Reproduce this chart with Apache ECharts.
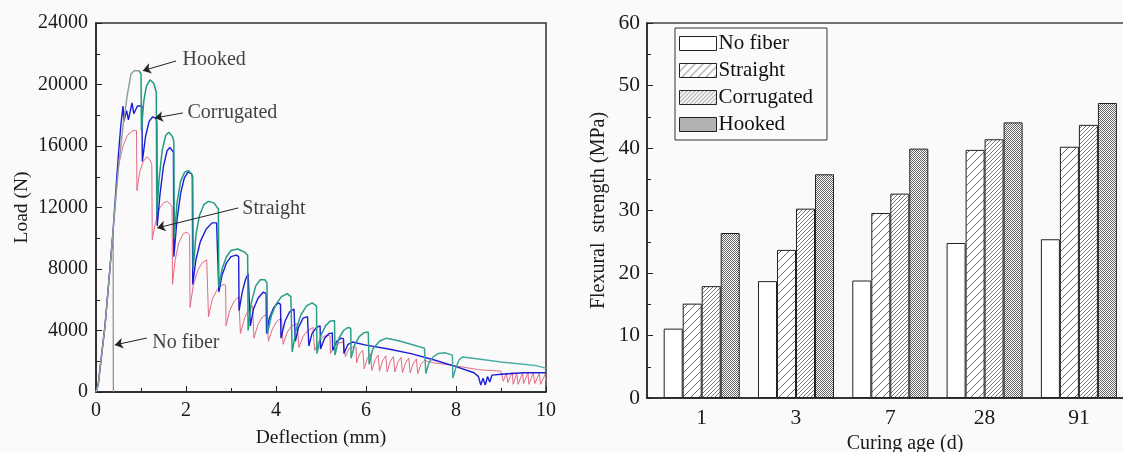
<!DOCTYPE html>
<html><head><meta charset="utf-8">
<script src="https://cdn.jsdelivr.net/npm/echarts@6/dist/echarts.min.js"></script>
<style>html,body{margin:0;padding:0;background:#fafafa}#c{width:1123px;height:452px}</style>
</head><body><div id="c"></div>
<script>
// ---------- Right panel: flexural strength (MPa) ----------
const curingAges = ['1', '3', '7', '28', '91'];
const noFiberStrength    = [11.1, 18.7, 18.8, 24.8, 25.4];
const straightStrength   = [15.1, 23.7, 29.6, 39.7, 40.2];
const corrugatedStrength = [17.9, 30.3, 32.7, 41.4, 43.7];
const hookedStrength     = [26.4, 35.8, 39.9, 44.1, 47.2];
const strengthTicks = [0, 10, 20, 30, 40, 50, 60];

// ---------- Left panel: load (N) vs deflection (mm) ----------
const noFiberCurve = [[0,0],[0.05,500],[0.1,1800],[0.2,4300],[0.3,7700],[0.38,10500],[0.385,300],[0.39,0]];
const straightCurve = [[0,0],[0.05,500],[0.1,1800],[0.2,4300],[0.3,7700],[0.38,10500],[0.5,14700],[0.6,16000],[0.7,16700],[0.82,17000],[0.9,17000],[0.91,13100],[0.97,14300],[1.05,15000],[1.13,15300],[1.2,15100],[1.24,14800],[1.25,9900],[1.32,11000],[1.4,11900],[1.5,12300],[1.58,12400],[1.66,12200],[1.69,12000],[1.7,7000],[1.76,8600],[1.84,9700],[1.94,10300],[2.02,10400],[2.08,10200],[2.09,5500],[2.16,6900],[2.26,7900],[2.36,8400],[2.46,8600],[2.49,8500],[2.5,4900],[2.58,6000],[2.7,6700],[2.82,7000],[2.88,6950],[2.89,4300],[2.97,5300],[3.07,5900],[3.17,6200],[3.2,6150],[3.21,3800],[3.3,4800],[3.4,5400],[3.48,5600],[3.5,5550],[3.51,3500],[3.6,4400],[3.7,4900],[3.8,5050],[3.82,5000],[3.83,3300],[3.92,4100],[4.02,4600],[4.12,4800],[4.15,4750],[4.16,3100],[4.25,3900],[4.35,4300],[4.47,4450],[4.5,4400],[4.51,2900],[4.6,3600],[4.7,4000],[4.82,4200],[4.85,4150],[4.86,2700],[4.95,3300],[5.05,3600],[5.15,3700],[5.2,3650],[5.21,2500],[5.3,3000],[5.4,3200],[5.5,3250],[5.53,3200],[5.54,2300],[5.62,2800],[5.72,2950],[5.78,2900],[5.79,1900],[5.86,2500],[5.93,2700],[5.95,2650],[5.96,1500],[6.03,2200],[6.1,2500],[6.12,2450],[6.13,1400],[6.2,2100],[6.27,2400],[6.29,2350],[6.3,1350],[6.37,2050],[6.44,2350],[6.46,2300],[6.47,1300],[6.54,2000],[6.61,2300],[6.63,2250],[6.64,1300],[6.71,1950],[6.78,2250],[6.8,2200],[6.81,1250],[6.88,1900],[6.95,2200],[6.97,2150],[6.98,1250],[7.05,1850],[7.12,2150],[7.14,2100],[7.15,1200],[7.22,1800],[7.3,2050],[7.32,2000],[7.5,1900],[8.0,1700],[8.5,1450],[9.0,1350],[9.05,700],[9.12,1250],[9.15,600],[9.25,1300],[9.27,500],[9.35,1200],[9.38,500],[9.48,1250],[9.5,550],[9.6,1250],[9.62,500],[9.72,1250],[9.75,550],[9.85,1200],[9.88,500],[9.98,1150],[10,700]];
const corrugatedCurve = [[0,0],[0.05,500],[0.1,1800],[0.2,4300],[0.3,7700],[0.38,10500],[0.45,13500],[0.5,15500],[0.55,17300],[0.6,18600],[0.62,17600],[0.68,18300],[0.72,17700],[0.8,18800],[0.84,18100],[0.92,18600],[1.02,18600],[1.03,15000],[1.1,16600],[1.18,17600],[1.26,17900],[1.33,17800],[1.35,17600],[1.36,10800],[1.42,12800],[1.5,14700],[1.58,15700],[1.64,15900],[1.72,15600],[1.73,8800],[1.8,11200],[1.88,12900],[1.96,13900],[2.04,14300],[2.12,14200],[2.14,14000],[2.15,7000],[2.22,8600],[2.32,9800],[2.45,10600],[2.58,11000],[2.68,11000],[2.72,10900],[2.73,6500],[2.8,7600],[2.9,8400],[3.0,8800],[3.12,8900],[3.17,8800],[3.18,5300],[3.25,6500],[3.32,7300],[3.38,7700],[3.42,7600],[3.43,4300],[3.5,5400],[3.6,6100],[3.72,6500],[3.78,6400],[3.79,3800],[3.85,4800],[3.95,5500],[4.05,5800],[4.1,5700],[4.11,3500],[4.2,4600],[4.3,5200],[4.4,5400],[4.42,5300],[4.43,3300],[4.5,4200],[4.6,4800],[4.7,4900],[4.72,4850],[4.73,3000],[4.8,3800],[4.9,4200],[4.98,4300],[4.99,2800],[5.08,3500],[5.18,3800],[5.25,3850],[5.26,2700],[5.35,3300],[5.45,3500],[5.5,3450],[5.51,2500],[5.6,3100],[5.7,3250],[6.0,3050],[6.5,2800],[7.0,2500],[7.5,2100],[8.0,1650],[8.4,1250],[8.5,1000],[8.55,450],[8.6,900],[8.65,450],[8.7,1000],[8.75,650],[8.8,1100],[9.0,1150],[9.5,1250],[10,1250]];
const hookedCurve = [[0,0],[0.05,500],[0.1,1800],[0.2,4300],[0.3,7700],[0.38,10500],[0.45,13000],[0.5,14600],[0.6,17300],[0.7,19400],[0.78,20700],[0.85,20900],[0.95,20900],[1.0,20700],[1.01,17000],[1.06,18900],[1.12,19900],[1.2,20300],[1.28,20100],[1.34,19500],[1.35,11500],[1.4,13800],[1.47,15700],[1.55,16700],[1.62,16900],[1.7,16600],[1.73,16300],[1.74,10000],[1.8,12300],[1.88,13700],[1.97,14300],[2.05,14400],[2.12,14200],[2.15,14000],[2.16,8000],[2.22,10200],[2.3,11500],[2.4,12200],[2.5,12400],[2.62,12300],[2.72,11900],[2.73,6800],[2.8,8000],[2.9,8800],[3.0,9200],[3.15,9300],[3.3,9100],[3.37,8900],[3.38,4000],[3.45,5800],[3.55,6900],[3.65,7300],[3.75,7300],[3.8,7100],[3.81,3800],[3.9,5000],[4.0,5700],[4.12,6200],[4.25,6400],[4.33,6200],[4.35,6100],[4.36,2600],[4.45,4100],[4.55,5000],[4.68,5600],[4.8,5800],[4.9,5600],[4.91,2500],[5.0,3700],[5.1,4300],[5.2,4600],[5.3,4650],[5.31,2400],[5.4,3500],[5.5,4000],[5.6,4200],[5.66,4150],[5.67,2200],[5.75,3100],[5.85,3600],[5.95,3850],[6.05,3900],[6.07,1800],[6.15,2800],[6.3,3300],[6.45,3500],[6.7,3350],[7.0,3100],[7.3,2850],[7.33,1200],[7.4,1900],[7.5,2300],[7.6,2500],[7.75,2550],[7.92,2400],[7.93,900],[8.0,1600],[8.07,2100],[8.15,2280],[8.5,2150],[9.0,1950],[9.5,1800],[9.8,1700],[10,1550]];

// annotation labels: [text position], arrow [from, to]
const annoNames  = ['Hooked', 'Corrugated', 'Straight', 'No fiber'];
const annoText   = [[1.91, 21590], [2.02, 18150], [3.24, 11900], [1.24, 3190]];
const annoFrom   = [[1.78, 21530], [1.93, 18150], [3.16, 11970], [1.13, 3510]];
const annoTo     = [[1.04, 20900], [1.31, 17820], [1.36, 10670], [0.42, 3060]];

const FONT = 'Liberation Serif';

function hatch(size, color) {
  const c = document.createElement('canvas'); c.width = c.height = size;
  const g = c.getContext('2d');
  g.fillStyle = '#fff'; g.fillRect(0, 0, size, size);
  g.strokeStyle = color; g.lineWidth = 1;
  g.beginPath();
  g.moveTo(0, size); g.lineTo(size, 0);
  g.moveTo(-1, 1); g.lineTo(1, -1);
  g.moveTo(size - 1, size + 1); g.lineTo(size + 1, size - 1);
  g.stroke();
  return c;
}
function checker(color) {
  const c = document.createElement('canvas'); c.width = c.height = 4;
  const g = c.getContext('2d');
  g.fillStyle = '#fff'; g.fillRect(0, 0, 4, 4);
  g.fillStyle = color;
  for (let y = 0; y < 4; y++) for (let x = 0; x < 4; x++) if ((x + y) % 2 === 0) g.fillRect(x, y, 1, 1);
  return c;
}
const patterns = {
  none: '#ffffff',
  straight: { image: hatch(8, '#6a6a6a'), repeat: 'repeat' },
  corrugated: { image: hatch(4, '#7a7a7a'), repeat: 'repeat' },
  hooked: { image: checker('#666'), repeat: 'repeat' }
};

const chart = echarts.init(document.getElementById('c'), null, { renderer: 'canvas' });

const barNames = ['No fiber', 'Straight', 'Corrugated', 'Hooked'];
const barValues = [noFiberStrength, straightStrength, corrugatedStrength, hookedStrength];
const barFills = [patterns.none, patterns.straight, patterns.corrugated, patterns.hooked];

const barSeries = barNames.map((n, k) => ({
  name: n, type: 'bar', xAxisIndex: 1, yAxisIndex: 1,
  barWidth: 19, barGap: '0%',
  itemStyle: { color: barFills[k], borderColor: '#222', borderWidth: 1 },
  data: barValues[k].map((v, i) => [i + 1, v]),
  silent: true
}));

const leftTickFont = { fontFamily: FONT, fontSize: 20, color: '#1a1a1a' };
const rightTickFont = { fontFamily: FONT, fontSize: 21.5, color: '#1a1a1a' };

const lineBase = { type: 'line', xAxisIndex: 0, yAxisIndex: 0, showSymbol: false, symbol: 'none', silent: true };

const option = {
  animation: false,
  backgroundColor: '#fafafa',
  textStyle: { fontFamily: FONT },
  grid: [
    { left: 96, top: 23, width: 450, height: 369, show: true, borderColor: '#333', borderWidth: 1.5, backgroundColor: 'transparent', containLabel: false, outerBoundsMode: 'none' },
    { left: 647, top: 23, width: 480, height: 375, show: true, borderColor: '#444', borderWidth: 1.5, backgroundColor: 'transparent', containLabel: false, outerBoundsMode: 'none' }
  ],
  legend: {
    data: barNames, orient: 'vertical', left: 675, top: 28,
    itemWidth: 37, itemHeight: 14, itemGap: 6, padding: [5, 14, 5, 4],
    borderColor: '#333', borderWidth: 1, selectedMode: false, icon: 'rect',
    itemStyle: { borderColor: '#222', borderWidth: 1 },
    textStyle: { fontFamily: FONT, fontSize: 21, color: '#111', padding: [0, 0, 0, -3] }
  },
  xAxis: [
    { type: 'value', gridIndex: 0, min: 0, max: 10, interval: 2,
      name: 'Deflection (mm)', nameLocation: 'middle', nameGap: 36,
      nameTextStyle: { fontFamily: FONT, fontSize: 19.5, color: '#1a1a1a' },
      axisLine: { lineStyle: { color: '#222', width: 1.5 } },
      axisTick: { inside: true, length: 6, lineStyle: { color: '#222' } },
      minorTick: { show: true, splitNumber: 2, length: 4, lineStyle: { color: '#222' } },
      axisLabel: Object.assign({ margin: 9, formatter: v => String(v) }, leftTickFont),
      splitLine: { show: false } },
    { type: 'value', gridIndex: 1, min: 0.42, max: 5.51,
      name: 'Curing age (d)', nameLocation: 'middle', nameGap: 33,
      nameTextStyle: { fontFamily: FONT, fontSize: 20, color: '#1a1a1a', padding: [0, 0, 0, 36] },
      axisLine: { onZero: false, lineStyle: { color: '#222', width: 1.5 } },
      axisTick: { show: false },
      axisLabel: Object.assign({ margin: 9, customValues: [1, 2, 3, 4, 5], formatter: v => curingAges[Math.round(v) - 1] || '' }, rightTickFont),
      splitLine: { show: false } }
  ],
  yAxis: [
    { type: 'value', gridIndex: 0, min: 0, max: 24000, interval: 4000,
      name: 'Load (N)', nameLocation: 'middle', nameGap: 64,
      nameTextStyle: { fontFamily: FONT, fontSize: 19.5, color: '#1a1a1a' },
      axisLine: { show: true, lineStyle: { color: '#222', width: 1.5 } },
      axisTick: { show: true, inside: true, length: 6, lineStyle: { color: '#222' } },
      minorTick: { show: true, splitNumber: 2, length: 4, lineStyle: { color: '#222' } },
      axisLabel: Object.assign({ margin: 8, formatter: v => String(v) }, leftTickFont),
      splitLine: { show: false } },
    { type: 'value', gridIndex: 1, min: strengthTicks[0], max: strengthTicks[strengthTicks.length - 1], interval: 10,
      name: 'Flexural  strength (MPa)', nameLocation: 'middle', nameGap: 38,
      nameTextStyle: { fontFamily: FONT, fontSize: 20, color: '#1a1a1a' },
      axisLine: { show: true, lineStyle: { color: '#222', width: 1.5 } },
      axisTick: { show: true, inside: true, length: 6, lineStyle: { color: '#222' } },
      minorTick: { show: true, splitNumber: 2, length: 4, lineStyle: { color: '#222' } },
      axisLabel: Object.assign({ margin: 7, formatter: v => String(v) }, rightTickFont),
      splitLine: { show: false } }
  ],
  series: [
    Object.assign({ name: 'No fiber curve', data: noFiberCurve, lineStyle: { color: '#8a8a8a', width: 1.2 } }, lineBase),
    Object.assign({ name: 'Straight curve', data: straightCurve, lineStyle: { color: '#e46a82', width: 1 } }, lineBase),
    Object.assign({ name: 'Corrugated curve', data: corrugatedCurve, lineStyle: { color: '#1c1cd6', width: 1.4 } }, lineBase),
    Object.assign({ name: 'Hooked curve', data: hookedCurve, lineStyle: { width: 1.5, color: new echarts.graphic.LinearGradient(0, 0, 1, 0, [
      { offset: 0, color: '#8fa09a' }, { offset: 0.1, color: '#8fa09a' }, { offset: 0.101, color: '#1e9a80' }, { offset: 0.6, color: '#2c9e8a' }, { offset: 1, color: '#5ab4b8' }]) } }, lineBase),
    { name: 'annotations', type: 'scatter', xAxisIndex: 0, yAxisIndex: 0, silent: true,
      symbolSize: 1, itemStyle: { color: 'transparent' },
      data: annoNames.map((n, i) => ({ name: n, value: annoText[i] })),
      label: { show: true, position: 'right', distance: 0, formatter: '{b}', fontFamily: FONT, fontSize: 20, color: '#111' },
      markLine: { silent: true, symbol: ['none', 'arrow'], symbolSize: 8, animation: false,
        lineStyle: { color: '#222', width: 1, type: 'solid' }, label: { show: false },
        data: annoNames.map((n, i) => [{ coord: annoFrom[i] }, { coord: annoTo[i] }]) } }
  ].concat(barSeries)
};
chart.setOption(option);
</script>
</body></html>
